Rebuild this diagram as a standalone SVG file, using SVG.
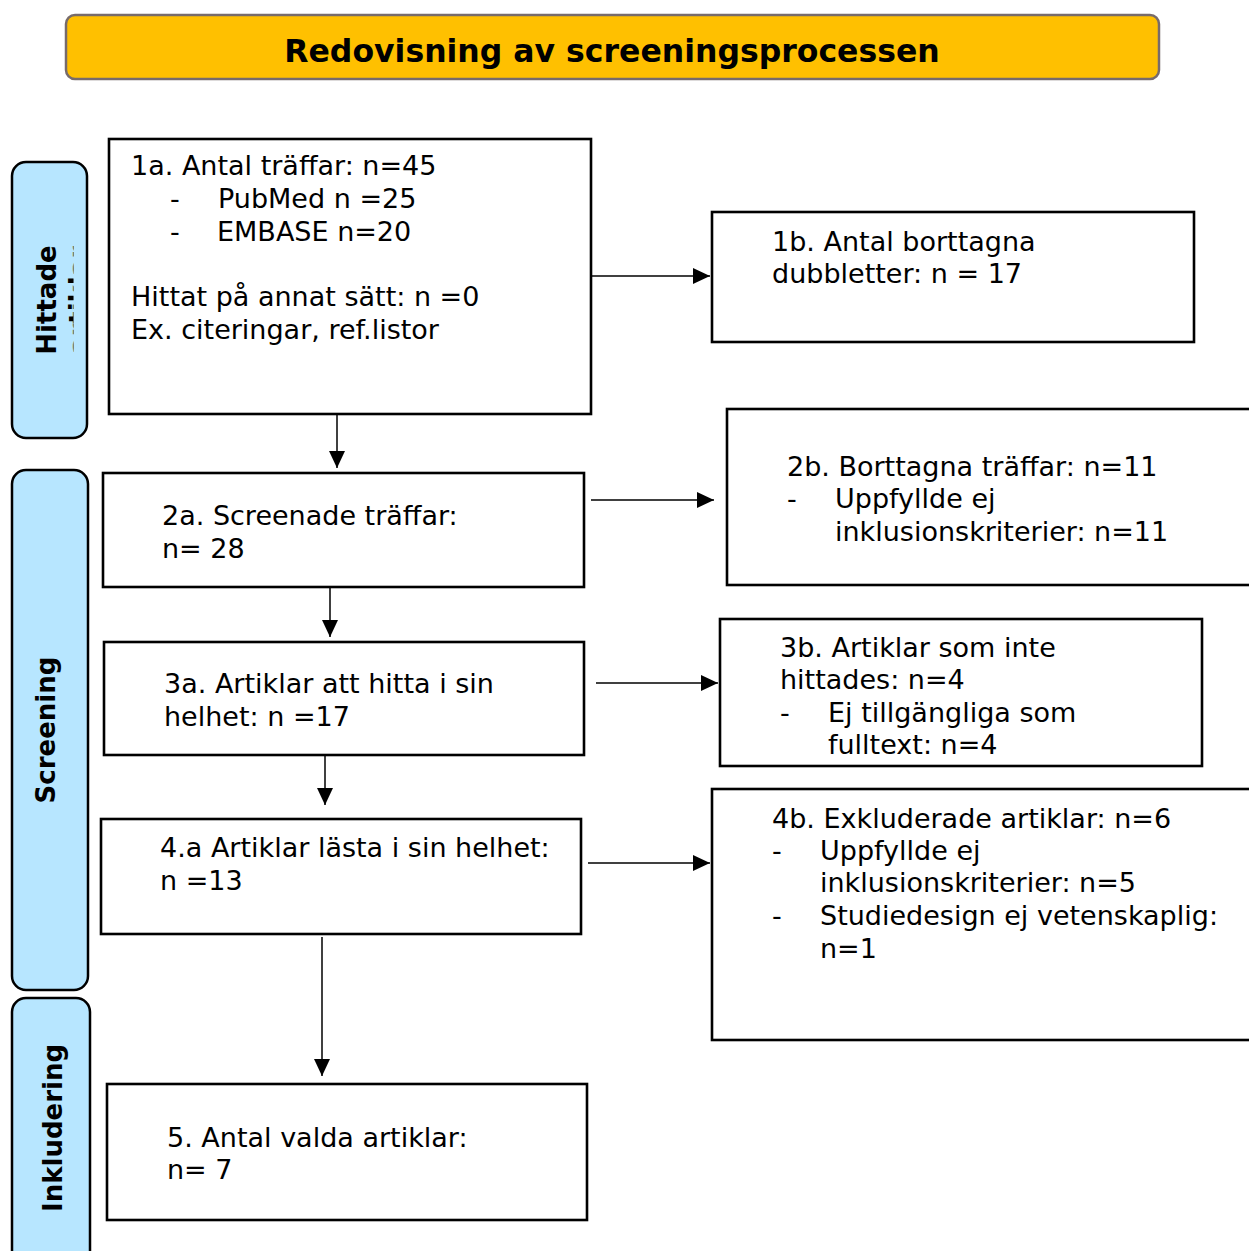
<svg xmlns="http://www.w3.org/2000/svg" width="1249" height="1251" viewBox="0 0 1249 1251">
<style>
.box{fill:#fff;stroke:#000;stroke-width:2.6}
.side{fill:#B7E6FF;stroke:#000;stroke-width:2.5}
.t{font-family:"DejaVu Sans",Verdana,sans-serif;font-size:27px;fill:#000}
.b{font-family:"DejaVu Sans",Verdana,sans-serif;font-size:26px;font-weight:bold;fill:#000}
.title{font-family:"DejaVu Sans",Verdana,sans-serif;font-size:31.5px;font-weight:bold;fill:#000}
.c{stroke:#000;stroke-width:1.5;fill:none;marker-end:url(#ah)}
</style>
<defs>
<marker id="ah" viewBox="0 0 17 16" refX="17" refY="8" markerWidth="17" markerHeight="16" markerUnits="userSpaceOnUse" orient="auto">
<path d="M0,0 L17,8 L0,16 Z" fill="#000"/>
</marker>
<clipPath id="hclip"><rect x="0" y="150" width="73.5" height="300"/></clipPath>
</defs>
<rect width="1249" height="1251" fill="#fff"/>
<g id="title">
<rect x="66" y="15" width="1093" height="64" rx="9" fill="#FFC000" stroke="#776b6b" stroke-width="2.5"/>
<text class="title" x="612" y="62" text-anchor="middle">Redovisning av screeningsprocessen</text>
</g>
<g id="side-hittade">
<rect class="side" x="12" y="162" width="75" height="276" rx="14"/>
<text class="b" transform="translate(56,300) rotate(-90)" text-anchor="middle">Hittade</text>
<g clip-path="url(#hclip)"><text class="b" transform="translate(88,300) rotate(-90)" text-anchor="middle">artiklar</text></g>
</g>
<g id="side-screening">
<rect class="side" x="12" y="470" width="76" height="520" rx="14"/>
<text class="b" transform="translate(55,730) rotate(-90)" text-anchor="middle">Screening</text>
</g>
<g id="side-inkludering">
<rect class="side" x="12" y="998" width="78" height="280" rx="14"/>
<text class="b" transform="translate(62,1128) rotate(-90)" text-anchor="middle">Inkludering</text>
</g>
<g id="connectors">
<line class="c" x1="337" y1="414" x2="337" y2="468"/>
<line class="c" x1="330" y1="587" x2="330" y2="637"/>
<line class="c" x1="325" y1="755" x2="325" y2="805"/>
<line class="c" x1="322" y1="937" x2="322" y2="1076"/>
<line class="c" x1="588" y1="276" x2="710" y2="276"/>
<line class="c" x1="591" y1="500" x2="714" y2="500"/>
<line class="c" x1="596" y1="683" x2="718" y2="683"/>
<line class="c" x1="588" y1="863" x2="710" y2="863"/>
</g>
<g id="n1a">
<rect class="box" x="109" y="139" width="482" height="275"/>
<text class="t" x="131" y="175">1a. Antal träffar: n=45</text>
<text class="t" x="170" y="208">-</text>
<text class="t" x="218" y="208">PubMed n =25</text>
<text class="t" x="170" y="241">-</text>
<text class="t" x="217" y="241">EMBASE n=20</text>
<text class="t" x="131" y="306">Hittat på annat sätt: n =0</text>
<text class="t" x="131" y="339">Ex. citeringar, ref.listor</text>
</g>
<g id="n1b">
<rect class="box" x="712" y="212" width="482" height="130"/>
<text class="t" x="772" y="251">1b. Antal borttagna</text>
<text class="t" x="772" y="283">dubbletter: n = 17</text>
</g>
<g id="n2a">
<rect class="box" x="103" y="473" width="481" height="114"/>
<text class="t" x="162" y="525">2a. Screenade träffar:</text>
<text class="t" x="162" y="558">n= 28</text>
</g>
<g id="n2b">
<rect class="box" x="727" y="409" width="540" height="176"/>
<text class="t" x="787" y="476">2b. Borttagna träffar: n=11</text>
<text class="t" x="787" y="508">-</text>
<text class="t" x="835" y="508">Uppfyllde ej</text>
<text class="t" x="835" y="541">inklusionskriterier: n=11</text>
</g>
<g id="n3a">
<rect class="box" x="104" y="642" width="480" height="113"/>
<text class="t" x="164" y="693">3a. Artiklar att hitta i sin</text>
<text class="t" x="164" y="726">helhet: n =17</text>
</g>
<g id="n3b">
<rect class="box" x="720" y="619" width="482" height="147"/>
<text class="t" x="780" y="657">3b. Artiklar som inte</text>
<text class="t" x="780" y="689">hittades: n=4</text>
<text class="t" x="780" y="722">-</text>
<text class="t" x="828" y="722">Ej tillgängliga som</text>
<text class="t" x="828" y="754">fulltext: n=4</text>
</g>
<g id="n4a">
<rect class="box" x="101" y="819" width="480" height="115"/>
<text class="t" x="160" y="857">4.a Artiklar lästa i sin helhet:</text>
<text class="t" x="160" y="890">n =13</text>
</g>
<g id="n4b">
<rect class="box" x="712" y="789" width="555" height="251"/>
<text class="t" x="772" y="828">4b. Exkluderade artiklar: n=6</text>
<text class="t" x="772" y="860">-</text>
<text class="t" x="820" y="860">Uppfyllde ej</text>
<text class="t" x="820" y="892">inklusionskriterier: n=5</text>
<text class="t" x="772" y="925">-</text>
<text class="t" x="820" y="925">Studiedesign ej vetenskaplig:</text>
<text class="t" x="820" y="958">n=1</text>
</g>
<g id="n5">
<rect class="box" x="107" y="1084" width="480" height="136"/>
<text class="t" x="167" y="1147">5. Antal valda artiklar:</text>
<text class="t" x="167" y="1179">n= 7</text>
</g>
</svg>
